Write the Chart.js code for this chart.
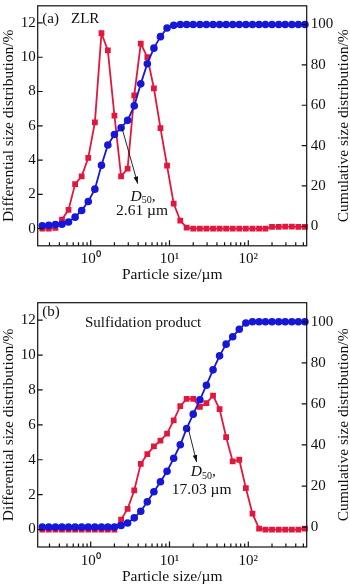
<!DOCTYPE html>
<html><head><meta charset="utf-8">
<script src="https://cdn.jsdelivr.net/npm/chart.js@4.4.1/dist/chart.umd.min.js"></script>
<style>
html,body{margin:0;padding:0;background:#fff;}
body{width:350px;height:585px;position:relative;overflow:hidden;}
canvas{position:absolute;left:0;}
#cA{top:0} #cB{top:290px}
</style></head><body>
<canvas id="cA" width="350" height="290"></canvas>
<canvas id="cB" width="350" height="295"></canvas>
<script>
// particle sizes (um), shared by both panels
const sizes=[0.243,0.294,0.357,0.432,0.523,0.634,0.768,0.931,1.13,1.37,1.65,2.00,2.43,2.94,3.57,4.32,5.23,6.34,7.68,9.31,
 11.3,13.7,16.5,20.0,24.3,29.4,35.7,43.2,52.3,63.4,76.8,93.1,113,137,165,200,243,294,357,432,523];

// (a) ZLR
const diffA=[0,0,0.05,0.53,1.1,2.6,3.05,4.13,6.2,11.4,10.4,6.6,3.05,3.5,7.77,10.8,10.0,8.19,5.86,3.67,
 1.46,0.47,0.06,0,0,0,0,0,0,0,0,0,0,0,0,0.1,0.1,0.12,0.12,0.1,0.1];
const cumA=[0.2,0.5,0.8,1.0,2.1,4.5,7.8,12.3,18.4,30.2,40.3,45.5,48.8,52.5,59.7,70.6,80.6,88.3,94.0,98.3,
 99.6,100,100,100,100,100,100,100,100,100,100,100,100,100,100,100,100,100,100,100,100];

// (b) sulfidation product
const diffB=[0,0,0,0,0,0,0,0,0,0,0,0,0.57,1.18,2.25,3.77,4.32,4.76,5.1,5.5,
 6.26,7.07,7.49,7.49,7.03,7.24,7.68,6.9,5.3,3.9,4.0,2.38,0.91,0.05,0,0,0,0,0,0,0.05];
const cumB=[0,0,0,0,0,0,0,0,0,0,0,0,0.8,2.0,4.5,7.7,12.3,17.2,22.1,27.2,
 33.5,40.1,48,55,62,69.1,76.6,83.4,89.1,92.7,96.4,99.4,100,100,100,100,100,100,100,100,100];

const leftTicks=[0,2,4,6,8,10,12];
const rightTicks=[0,20,40,60,80,100];
const xTicks=[1,10,100];
const xTickText={1:'10\u2070',10:'10\u00B9',100:'10\u00B2'};

const RED='#e2173d', BLUE='#1717d9';
const SERIF='"Liberation Serif","Times New Roman",serif';

const deco={
 id:'deco',
 afterDatasetsDraw(chart,args,o){
  const {ctx,chartArea:a,scales:{x,y,y2}}=chart;
  ctx.save();
  ctx.strokeStyle='#111'; ctx.lineWidth=1.2;
  ctx.strokeRect(a.left,a.top,a.right-a.left,a.bottom-a.top);
  ctx.beginPath();
  leftTicks.forEach(v=>{const p=y.getPixelForValue(v);ctx.moveTo(a.left,p);ctx.lineTo(a.left+5,p);});
  rightTicks.forEach(v=>{const p=y2.getPixelForValue(v);ctx.moveTo(a.right,p);ctx.lineTo(a.right-5,p);});
  [0.1,1,10,100].forEach(d=>{
   for(let m=1;m<10;m++){
    const v=d*m; if(v<x.min||v>x.max) continue;
    const p=x.getPixelForValue(v), len=m===1?5.5:3.5;
    ctx.moveTo(p,a.bottom); ctx.lineTo(p,a.bottom-len);
   }
  });
  ctx.stroke();

  ctx.fillStyle='#111'; ctx.textBaseline='middle'; ctx.textAlign='left';
  ctx.font='15px '+SERIF;
  ctx.fillText(o.tag,a.left+o.tagPos[0],a.top+o.tagPos[1]);
  ctx.fillText(o.name,a.left+o.namePos[0],a.top+o.namePos[1]);

  // D50 arrow
  const x1=x.getPixelForValue(o.arrow[0][0]), y1=y2.getPixelForValue(o.arrow[0][1]);
  const x2=x.getPixelForValue(o.arrow[1][0]), y2p=y2.getPixelForValue(o.arrow[1][1]);
  ctx.lineWidth=0.9; ctx.beginPath(); ctx.moveTo(x1,y1); ctx.lineTo(x2,y2p); ctx.stroke();
  const ang=Math.atan2(y2p-y1,x2-x1);
  ctx.beginPath(); ctx.moveTo(x2,y2p);
  ctx.lineTo(x2-7*Math.cos(ang)+2.3*Math.sin(ang),y2p-7*Math.sin(ang)-2.3*Math.cos(ang));
  ctx.lineTo(x2-7*Math.cos(ang)-2.3*Math.sin(ang),y2p-7*Math.sin(ang)+2.3*Math.cos(ang));
  ctx.closePath(); ctx.fill();

  // D50, label
  const cx=x.getPixelForValue(o.d50[0]), cy=y2.getPixelForValue(o.d50[1]);
  const fI='italic 15.5px '+SERIF, fS='10px '+SERIF, fN='15.5px '+SERIF;
  ctx.font=fI; const wD=ctx.measureText('D').width;
  ctx.font=fS; const w5=ctx.measureText('50').width;
  ctx.font=fN; const wc=ctx.measureText(',').width;
  let sx=cx-(wD+w5+wc)/2;
  ctx.font=fI; ctx.fillText('D',sx,cy); sx+=wD;
  ctx.font=fS; ctx.fillText('50',sx,cy+4); sx+=w5;
  ctx.font=fN; ctx.fillText(',',sx,cy);
  ctx.textAlign='center';
  ctx.fillText(o.val,x.getPixelForValue(o.valPos[0]),y2.getPixelForValue(o.valPos[1]));

  // right axis title, reading upward
  ctx.save();
  ctx.translate(344,(a.top+a.bottom)/2); ctx.rotate(-Math.PI/2);
  ctx.font='15.5px '+SERIF; ctx.textAlign='center'; ctx.textBaseline='middle';
  ctx.fillText('Cumulative size distribution/%',0,0);
  ctx.restore();
  ctx.restore();
 }
};

function build(id,diff,cum,padTop,xH,tickPad,titlePad,d){
 const font={family:SERIF,size:15};
 const tfont={family:SERIF,size:15.5,lineHeight:1.1};
 return new Chart(document.getElementById(id),{
  type:'line',
  data:{datasets:[
   {label:'Cumulative',data:sizes.map((v,i)=>({x:v,y:cum[i]})),yAxisID:'y2',
    borderColor:BLUE,backgroundColor:BLUE,pointStyle:'circle',pointRadius:2.9,borderWidth:1.8,clip:false},
   {label:'Differential',data:sizes.map((v,i)=>({x:v,y:diff[i]})),yAxisID:'y',
    borderColor:RED,backgroundColor:RED,pointStyle:'rect',pointRadius:2.8,borderWidth:1.8,clip:false}
  ]},
  options:{
   responsive:false,animation:false,devicePixelRatio:1,
   layout:{padding:{top:padTop,left:0,right:0,bottom:0}},
   plugins:{legend:{display:false},tooltip:{enabled:false},deco:d},
   scales:{
    x:{type:'logarithmic',position:'bottom',min:0.2125,max:551,
     grid:{display:false,drawTicks:false},border:{display:false},
     afterBuildTicks:s=>{s.ticks=xTicks.map(v=>({value:v}));},
     ticks:{font,color:'#111',padding:tickPad,autoSkip:false,maxRotation:0,callback:v=>xTickText[v]||''},
     title:{display:true,text:'Particle size/\u00B5m',font:tfont,color:'#111',padding:{top:0,bottom:titlePad}},
     afterFit:s=>{s.height=xH;s.paddingLeft=0;s.paddingRight=0;}},
    y:{position:'left',min:-1,max:13,
     grid:{display:false,drawTicks:false},border:{display:false},
     afterBuildTicks:s=>{s.ticks=leftTicks.map(v=>({value:v}));},
     ticks:{font,color:'#111',padding:2},
     title:{display:true,text:'Differential size distribution/%',font:tfont,color:'#111',padding:{top:0,bottom:0}},
     afterFit:s=>{s.width=37.7;s.paddingTop=0;s.paddingBottom=0;}},
    y2:{position:'right',min:-9.7,max:109.3,
     grid:{display:false,drawTicks:false},border:{display:false},
     afterBuildTicks:s=>{s.ticks=rightTicks.map(v=>({value:v}));},
     ticks:{font,color:'#111',padding:4},
     afterFit:s=>{s.width=43.3;s.paddingTop=0;s.paddingBottom=0;}}
   }
  },
  plugins:[deco]
 });
}

build('cA',diffA,cumA,1.7,44.2,4,6.5,{
 tag:'(a)',tagPos:[4.6,13.3],name:'ZLR',namePos:[33.3,13.3],
 arrow:[[2.47,49.3],[3.95,21.1]],d50:[4.61,14.6],val:'2.61 \u00B5m',valPos:[4.48,7.4]});
build('cB',diffB,cumB,12.7,38,5.5,0,{
 tag:'(b)',tagPos:[4.6,9.5],name:'Sulfidation product',namePos:[47.3,20.6],
 arrow:[[17.3,48],[22.1,31.7]],d50:[26.85,26.8],val:'17.03 \u00B5m',valPos:[25.6,17.9]});
</script>
</body></html>
